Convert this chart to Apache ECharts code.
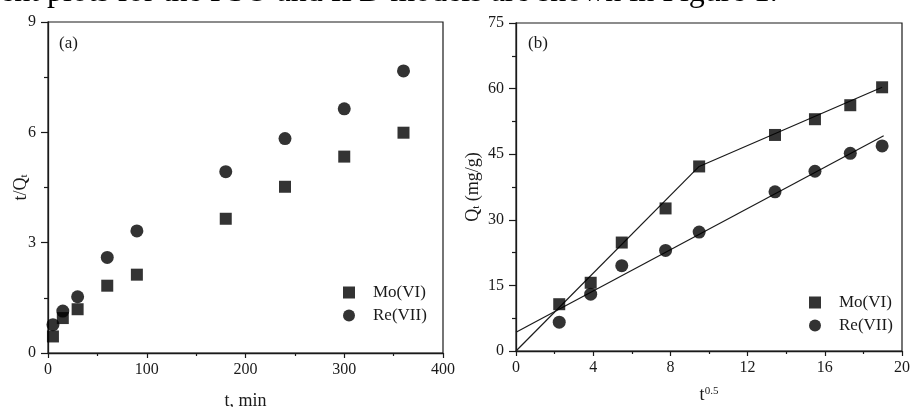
<!DOCTYPE html>
<html>
<head>
<meta charset="utf-8">
<script src="https://cdn.jsdelivr.net/npm/echarts@6/dist/echarts.min.js"></script>
<style>
  html, body { margin: 0; padding: 0; background: #fff; }
  #chart { width: 910px; height: 407px; }
</style>
</head>
<body>
<div id="chart"></div>
<script>
// (a) t/Qt против t
const timeMin = [5, 15, 30, 60, 90, 180, 240, 300, 360]
const moTQ = [0.45, 0.95, 1.19, 1.83, 2.13, 3.65, 4.52, 5.34, 5.99]
const reTQ = [0.77, 1.14, 1.53, 2.60, 3.32, 4.93, 5.83, 6.64, 7.67]

// (b) Qt против t^0.5
const sqrtT = [2.24, 3.87, 5.48, 7.75, 9.49, 13.42, 15.49, 17.32, 18.97]
const moQt = [10.7, 15.6, 24.8, 32.6, 42.2, 49.4, 53.0, 56.2, 60.3]
const reQt = [6.6, 13.0, 19.5, 23.0, 27.2, 36.4, 41.1, 45.2, 46.9]

// линии аппроксимации (концы отрезков)
const moFit1 = [[0, 0], [9.49, 42.2]]
const moFit2 = [[9.49, 42.2], [18.97, 60.3]]
const reFit = [[0, 4.3], [19.05, 49.2]]

const FONT = 'Liberation Serif'
const INK = '#1a1a1a'

function pairs(xs, ys) {
  return xs.map((x, i) => [x, ys[i]])
}

function xAx(grid, max, interval, name, gap) {
  return {
    gridIndex: grid,
    type: 'value',
    min: 0,
    max: max,
    interval: interval,
    name: name,
    nameLocation: 'middle',
    nameGap: gap,
    nameMoveOverlap: false,
    nameTextStyle: {
      fontFamily: FONT, fontSize: 18, color: INK,
      rich: {
        n: { fontFamily: FONT, fontSize: 18, lineHeight: 18, color: INK },
        s: { fontFamily: FONT, fontSize: 11, lineHeight: 6, verticalAlign: 'top', color: INK }
      }
    },
    axisLine: { lineStyle: { color: INK, width: 1.3 } },
    axisTick: { inside: false, length: 5, lineStyle: { color: INK, width: 1.2 } },
    minorTick: { show: true, splitNumber: 2, length: 3, lineStyle: { color: INK, width: 1.2 } },
    splitLine: { show: false },
    axisLabel: { fontFamily: FONT, fontSize: 16, color: INK, margin: 9 }
  }
}

function yAx(grid, max, interval, name, gap) {
  return {
    gridIndex: grid,
    type: 'value',
    min: 0,
    max: max,
    interval: interval,
    name: name,
    nameLocation: 'middle',
    nameGap: gap,
    nameRotate: 90,
    nameMoveOverlap: false,
    nameTextStyle: {
      fontFamily: FONT, fontSize: 18, color: INK,
      rich: {
        n: { fontFamily: FONT, fontSize: 18, lineHeight: 18, color: INK },
        s: { fontFamily: FONT, fontSize: 11, lineHeight: 6, verticalAlign: 'bottom', color: INK }
      }
    },
    axisLine: { lineStyle: { color: INK, width: 1.3 } },
    axisTick: { inside: false, length: 7, lineStyle: { color: INK, width: 1.2 } },
    minorTick: { show: true, splitNumber: 2, length: 4, lineStyle: { color: INK, width: 1.2 } },
    splitLine: { show: false },
    axisLabel: { fontFamily: FONT, fontSize: 16, color: INK, margin: 12 }
  }
}

function legend(left, top) {
  return {
    orient: 'vertical',
    left: left,
    top: top,
    itemWidth: 12,
    itemHeight: 12,
    itemGap: 6,
    selectedMode: false,
    textStyle: { fontFamily: FONT, fontSize: 17, color: INK, padding: [0, 0, 0, 13] },
    data: [
      { name: 'Mo(VI)', icon: 'rect' },
      { name: 'Re(VII)', icon: 'circle' }
    ]
  }
}

function fitLine(data, xi, yi) {
  return {
    type: 'line',
    name: 'fit',
    xAxisIndex: xi,
    yAxisIndex: yi,
    data: data,
    showSymbol: false,
    silent: true,
    lineStyle: { color: INK, width: 1.2 },
    z: 1
  }
}

const myChart = echarts.init(document.getElementById('chart'))
const options = {
  animation: false,
  backgroundColor: '#fff',
  grid: [
    { left: 48, top: 22, width: 395, height: 331, show: true, borderColor: INK, borderWidth: 1.2, outerBoundsMode: 'none', containLabel: false },
    { left: 516, top: 23, width: 386, height: 328, show: true, borderColor: INK, borderWidth: 1.2, outerBoundsMode: 'none', containLabel: false }
  ],
  xAxis: [
    xAx(0, 400, 100, 't, min', 39),
    xAx(1, 20, 4, '{n|t}{s|0.5}', 35)
  ],
  yAxis: [
    yAx(0, 9, 3, '{n|t/Q}{s|t}', 18),
    yAx(1, 75, 15, '{n|Q}{s|t}{n| (mg/g)}', 34)
  ],
  legend: [legend(338, 279), legend(804, 289)],
  graphic: [
    {
      type: 'text', x: 0, y: -23,
      style: {
        text: 'ent plots for the PSO and IPD models are shown in Figure 1.',
        fontFamily: FONT, fontSize: 32, fill: '#000', verticalAlign: 'top'
      }
    },
    {
      type: 'text', left: 59, top: 35,
      style: { text: '(a)', fontFamily: FONT, fontSize: 17, fill: INK }
    },
    {
      type: 'text', left: 528, top: 35,
      style: { text: '(b)', fontFamily: FONT, fontSize: 17, fill: INK }
    }
  ],
  series: [
    {
      type: 'scatter', name: 'Mo(VI)', xAxisIndex: 0, yAxisIndex: 0,
      symbol: 'rect', symbolSize: 12, itemStyle: { color: '#000' },
      data: pairs(timeMin, moTQ)
    },
    {
      type: 'scatter', name: 'Re(VII)', xAxisIndex: 0, yAxisIndex: 0,
      symbol: 'circle', symbolSize: 13, itemStyle: { color: '#000' },
      data: pairs(timeMin, reTQ)
    },
    fitLine(moFit1, 1, 1),
    fitLine(moFit2, 1, 1),
    fitLine(reFit, 1, 1),
    {
      type: 'scatter', name: 'Mo(VI)', xAxisIndex: 1, yAxisIndex: 1,
      symbol: 'rect', symbolSize: 12, itemStyle: { color: '#000' },
      data: pairs(sqrtT, moQt), z: 3
    },
    {
      type: 'scatter', name: 'Re(VII)', xAxisIndex: 1, yAxisIndex: 1,
      symbol: 'circle', symbolSize: 13, itemStyle: { color: '#000' },
      data: pairs(sqrtT, reQt), z: 3
    }
  ]
}
options && myChart.setOption(options)
</script>
</body>
</html>
